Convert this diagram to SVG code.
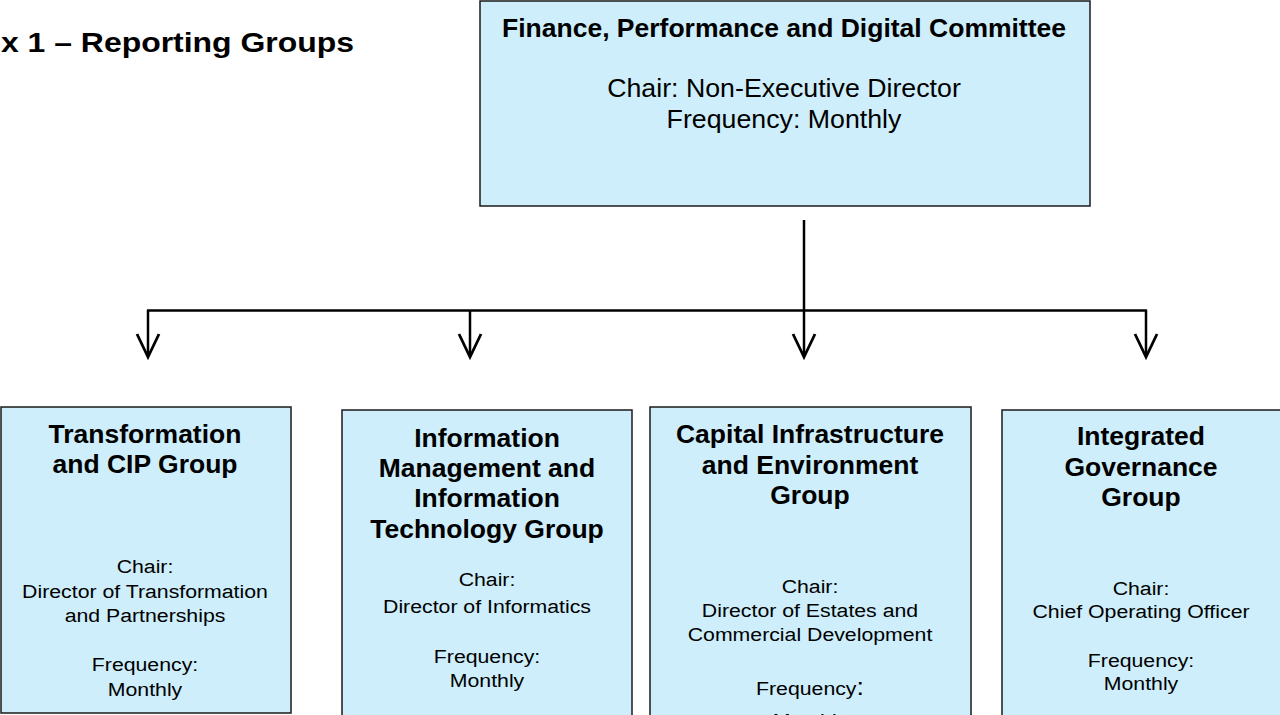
<svg xmlns="http://www.w3.org/2000/svg" width="1280" height="715" viewBox="0 0 1280 715">
  <style>
    .box { fill: #cdeefa; stroke: #1a1a1a; stroke-width: 1.5; }
    .t { font-family: "Liberation Sans", Arial, sans-serif; fill: #000; text-anchor: middle; }
    .h { font-weight: bold; font-size: 26.5px; }
    .b { font-size: 19px; }
    .m { font-size: 25px; }
    .wire { stroke: #000; stroke-width: 2.5; fill: none; }
    .head { stroke: #000; stroke-width: 2.8; fill: none; stroke-linejoin: miter; }
  </style>
  <rect width="1280" height="715" fill="#fff"/>

  <text class="t" x="354" y="52" style="text-anchor:end;font-weight:bold;font-size:28px" textLength="353" lengthAdjust="spacingAndGlyphs">x 1 – Reporting Groups</text>

  <g id="connectors">
    <line class="wire" x1="804" y1="220" x2="804" y2="310"/>
    <line class="wire" x1="147" y1="310.5" x2="1147" y2="310.5" stroke-width="3.5"/>
    <line class="wire" x1="148" y1="310" x2="148" y2="356"/>
    <line class="wire" x1="470" y1="310" x2="470" y2="356"/>
    <line class="wire" x1="804" y1="310" x2="804" y2="356"/>
    <line class="wire" x1="1146" y1="310" x2="1146" y2="356"/>
    <path class="head" d="M137 334 L148 357 L159 334"/>
    <path class="head" d="M459 334 L470 357 L481 334"/>
    <path class="head" d="M793 334 L804 357 L815 334"/>
    <path class="head" d="M1135 334 L1146 357 L1157 334"/>
  </g>

  <g id="committee">
    <rect class="box" x="480" y="1" width="610" height="205"/>
    <text class="t" x="784" y="37" style="font-weight:bold;font-size:26.5px">Finance, Performance and Digital Committee</text>
    <text class="t m" transform="translate(784 0) scale(1.07 1)" x="0" y="97">Chair: Non-Executive Director</text>
    <text class="t m" transform="translate(784 0) scale(1.07 1)" x="0" y="128">Frequency: Monthly</text>
  </g>

  <g id="transformation">
    <rect class="box" x="1" y="407" width="290" height="306"/>
    <text class="t h" x="145" y="443">Transformation</text>
    <text class="t h" x="145" y="473">and CIP Group</text>
    <text class="t b" transform="translate(145 0) scale(1.12 1)" x="0" y="573">Chair:</text>
    <text class="t b" transform="translate(145 0) scale(1.12 1)" x="0" y="598">Director of Transformation</text>
    <text class="t b" transform="translate(145 0) scale(1.12 1)" x="0" y="622">and Partnerships</text>
    <text class="t b" transform="translate(145 0) scale(1.12 1)" x="0" y="671">Frequency:</text>
    <text class="t b" transform="translate(145 0) scale(1.12 1)" x="0" y="696">Monthly</text>
  </g>

  <g id="information">
    <rect class="box" x="342" y="410" width="290" height="310"/>
    <text class="t h" x="487" y="447">Information</text>
    <text class="t h" x="487" y="477">Management and</text>
    <text class="t h" x="487" y="507">Information</text>
    <text class="t h" x="487" y="538">Technology Group</text>
    <text class="t b" transform="translate(487 0) scale(1.12 1)" x="0" y="586">Chair:</text>
    <text class="t b" transform="translate(487 0) scale(1.12 1)" x="0" y="613">Director of Informatics</text>
    <text class="t b" transform="translate(487 0) scale(1.12 1)" x="0" y="663">Frequency:</text>
    <text class="t b" transform="translate(487 0) scale(1.12 1)" x="0" y="687">Monthly</text>
  </g>

  <g id="capital">
    <rect class="box" x="650" y="407" width="321" height="313"/>
    <text class="t h" x="810" y="443">Capital Infrastructure</text>
    <text class="t h" x="810" y="474">and Environment</text>
    <text class="t h" x="810" y="504">Group</text>
    <text class="t b" transform="translate(810 0) scale(1.12 1)" x="0" y="593">Chair:</text>
    <text class="t b" transform="translate(810 0) scale(1.12 1)" x="0" y="617">Director of Estates and</text>
    <text class="t b" transform="translate(810 0) scale(1.12 1)" x="0" y="641">Commercial Development</text>
    <text class="t b" transform="translate(810 0) scale(1.12 1)" x="0" y="695">Frequency<tspan font-size="24">:</tspan></text>
    <text class="t b" transform="translate(810 0) scale(1.12 1)" x="0" y="727">Monthly</text>
  </g>

  <g id="governance">
    <rect class="box" x="1002" y="410" width="290" height="310"/>
    <text class="t h" x="1141" y="445">Integrated</text>
    <text class="t h" x="1141" y="476">Governance</text>
    <text class="t h" x="1141" y="506">Group</text>
    <text class="t b" transform="translate(1141 0) scale(1.12 1)" x="0" y="595">Chair:</text>
    <text class="t b" transform="translate(1141 0) scale(1.12 1)" x="0" y="618">Chief Operating Officer</text>
    <text class="t b" transform="translate(1141 0) scale(1.12 1)" x="0" y="667">Frequency:</text>
    <text class="t b" transform="translate(1141 0) scale(1.12 1)" x="0" y="690">Monthly</text>
  </g>
</svg>
